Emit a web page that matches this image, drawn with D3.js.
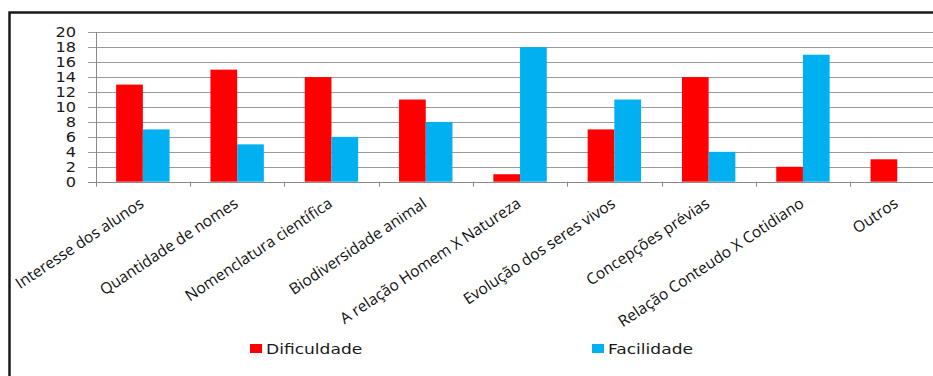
<!DOCTYPE html>
<html>
<head>
<meta charset="utf-8">
<script src="https://cdn.jsdelivr.net/npm/d3@7"></script>
<style>
  html, body { margin: 0; padding: 0; background: #fff; }
  svg { display: block; }
</style>
</head>
<body>
<svg id="chart" width="933" height="376"></svg>
<script>
// Categories and series values
const categories = [
  "Interesse dos alunos",
  "Quantidade de nomes",
  "Nomenclatura científica",
  "Biodiversidade animal",
  "A relação Homem X Natureza",
  "Evolução dos seres vivos",
  "Concepções prévias",
  "Relação Conteudo X Cotidiano",
  "Outros"
];
const seriesNames = ["Dificuldade", "Facilidade"];
const dificuldade = [13, 15, 14, 11, 1, 7, 14, 2, 3];
const facilidade = [7, 5, 6, 8, 18, 11, 4, 17, 0];
const yTicks = [0, 2, 4, 6, 8, 10, 12, 14, 16, 18, 20];
const colors = ["#ff0000", "#00b0f0"];

const svg = d3.select("#chart");
const W = 933, H = 376;

svg.append("rect").attr("width", W).attr("height", H).attr("fill", "#fff");

// Frame (top and left edges)
svg.append("path")
  .attr("d", `M9.5,${H} L9.5,12.5 L${W},12.5`)
  .attr("fill", "none")
  .attr("stroke", "#1a1a1a")
  .attr("stroke-width", 2.5);

const plotLeft = 95.7, plotRight = 944.4, plotTop = 32.3, plotBottom = 181.7;

const x = d3.scaleBand().domain(categories).range([plotLeft, plotRight]).padding(0);
const x1 = d3.scaleBand().domain(seriesNames).range([0, x.bandwidth()])
  .paddingInner(0).paddingOuter(0.766);
const y = d3.scaleLinear().domain([0, 20]).range([plotBottom, plotTop]);

// Horizontal gridlines with short left ticks
const grid = svg.append("g");
grid.selectAll("line").data(yTicks).join("line")
  .attr("x1", 88).attr("x2", W)
  .attr("y1", d => Math.round(y(d)) + 0.5).attr("y2", d => Math.round(y(d)) + 0.5)
  .attr("stroke", "#9a9a9a").attr("stroke-width", 1);

// Y axis tick labels
svg.append("g").selectAll("text").data(yTicks).join("text")
  .attr("transform", d => `translate(76,${y(d)}) scale(1.2,1)`)
  .attr("text-anchor", "end")
  .attr("dy", "0.36em")
  .attr("font-family", "DejaVu Sans, sans-serif")
  .attr("font-size", 13.5)
  .attr("fill", "#1a1a1a")
  .text(d => d);

// Bars
const rows = categories.map((c, i) => ({ cat: c, values: [dificuldade[i], facilidade[i]] }));
const groups = svg.append("g").selectAll("g").data(rows).join("g")
  .attr("transform", d => `translate(${x(d.cat)},0)`);
groups.selectAll("rect")
  .data(d => d.values.map((v, j) => ({ key: seriesNames[j], v, j })))
  .join("rect")
  .attr("x", d => x1(d.key))
  .attr("width", x1.bandwidth())
  .attr("y", d => y(d.v))
  .attr("height", d => y(0) - y(d.v))
  .attr("fill", d => colors[d.j]);

// Axes lines and category boundary ticks
const axisColor = "#8a8a8a";
svg.append("line")
  .attr("x1", Math.round(plotLeft) + 0.5).attr("x2", Math.round(plotLeft) + 0.5)
  .attr("y1", plotTop).attr("y2", plotBottom + 5)
  .attr("stroke", axisColor);
svg.append("line")
  .attr("x1", 88).attr("x2", W)
  .attr("y1", Math.round(plotBottom) + 0.5).attr("y2", Math.round(plotBottom) + 0.5)
  .attr("stroke", axisColor);
svg.append("g").selectAll("line").data(categories.slice(1)).join("line")
  .attr("x1", d => Math.round(x(d)) + 0.5).attr("x2", d => Math.round(x(d)) + 0.5)
  .attr("y1", plotBottom).attr("y2", plotBottom + 5)
  .attr("stroke", axisColor);

// Rotated category labels
svg.append("g").selectAll("text").data(categories).join("text")
  .attr("transform", d => `translate(${x(d) + x.bandwidth() / 2 + 2},${206}) rotate(-33.7)`)
  .attr("text-anchor", "end")
  .attr("font-family", "Open Sans, sans-serif")
  .attr("font-size", 15.6)
  .attr("fill", "#111")
  .text(d => d);

// Legend
const legendPos = [250, 592];
const legend = svg.append("g").selectAll("g").data(seriesNames).join("g")
  .attr("transform", (d, i) => `translate(${legendPos[i]},344)`);
legend.append("rect")
  .attr("width", 12).attr("height", 9)
  .attr("fill", (d, i) => colors[i]);
legend.append("text")
  .attr("transform", "translate(16,9.5) scale(1.22,1)")
  .attr("font-family", "DejaVu Sans, sans-serif")
  .attr("font-size", 14)
  .attr("fill", "#1a1a1a")
  .text(d => d);
</script>
</body>
</html>
